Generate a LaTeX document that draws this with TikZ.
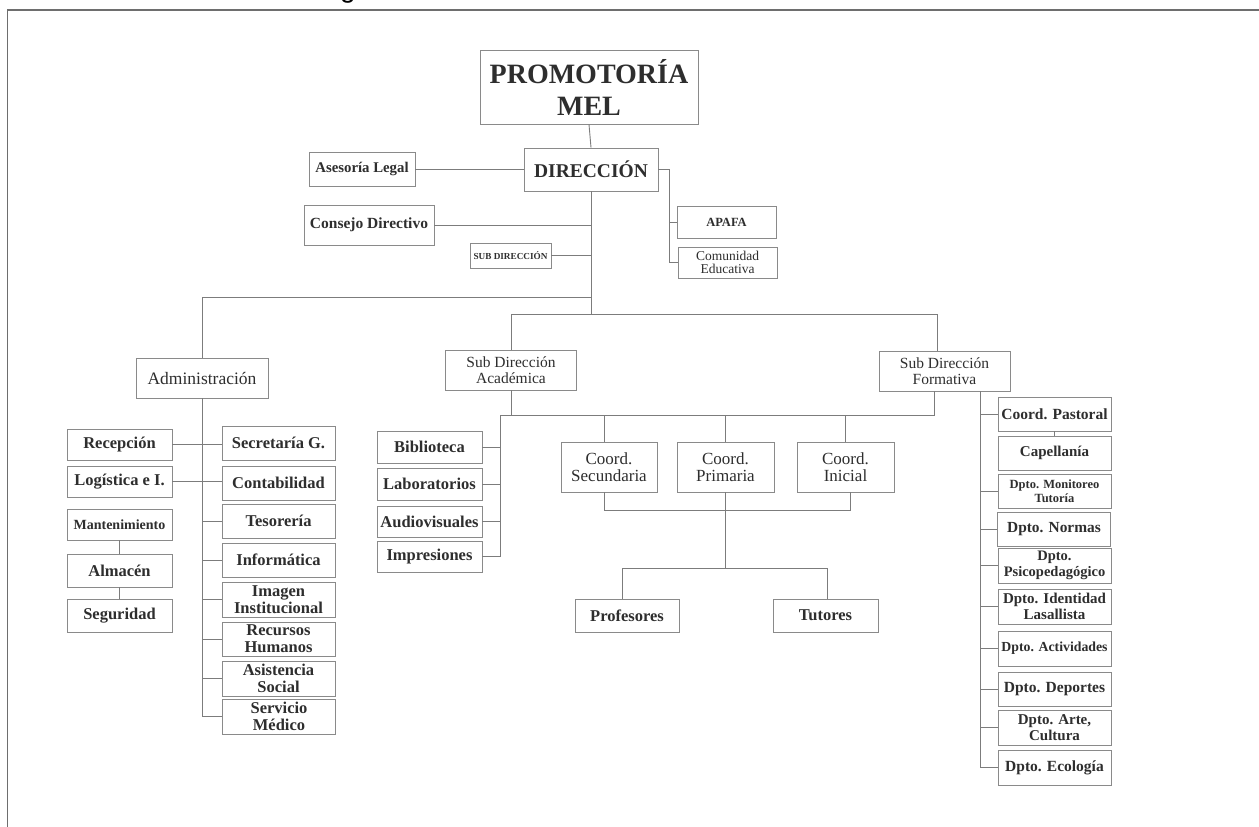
\documentclass[tikz,border=0pt]{standalone}
\usepackage{fontspec}
\setmainfont{Liberation Serif}
\newfontfamily\gfont{Liberation Sans}
\definecolor{boxgray}{HTML}{8A8A8A}
\definecolor{linegray}{HTML}{7C7C7C}
\definecolor{framegray}{HTML}{6E6E6E}
\definecolor{txt}{HTML}{2E2E2E}
\begin{document}
\begin{tikzpicture}[x=1pt,y=-1pt,
  bx/.style={draw=boxgray, line width=0.9pt, inner sep=0pt, align=center, text=txt,
    font=\bfseries\fontsize{16.5}{17}\selectfont},
  rg/.style={font=\fontsize{#1}{#1}\selectfont},
  bd/.style={font=\bfseries\fontsize{#1}{#1}\selectfont},
  ln/.style={draw=linegray, line width=0.9pt},
  fr/.style={draw=framegray, line width=1.2pt}]
\useasboundingbox (0,0) rectangle (1259,827);
\fill[white] (0,0) rectangle (1259,827);
% frame and title fragment
\coordinate (fa) at (7.5,827);
\coordinate (fb) at (7.5,10);
\coordinate (fc) at (1259,10);
\draw[fr] (fa) -- (fb) -- (fc);
\begin{scope}
\clip (0,0) rectangle (1259,827);
\node[font=\gfont\fontsize{28}{28}\selectfont, anchor=base west, inner sep=0pt, text=black] (gfrag) at (340,-2) {g};
\end{scope}

% top levels
\node[bx, minimum width=218, minimum height=74, font=\bfseries\fontsize{28}{32}\selectfont] (prom) at (589,87) {PROMOTORÍA\\MEL};
\node[bx, minimum width=134, minimum height=43, bd=19.5] (dir) at (591,169.5) {DIRECCIÓN};
\node[bx, minimum width=106, minimum height=34, bd=14.8] (ases) at (362,169) {Asesoría Legal};
\node[bx, minimum width=130, minimum height=40, bd=15.5] (cons) at (369,225) {Consejo Directivo};
\node[bx, minimum width=81, minimum height=25, bd=9.2] (subd) at (510.5,255.5) {SUB DIRECCIÓN};
\node[bx, minimum width=99, minimum height=32, bd=12.5] (apafa) at (726.5,222) {APAFA};
\node[bx, minimum width=99, minimum height=31, font=\fontsize{13.5}{13.5}\selectfont] (comu) at (727.5,262.5) {Comunidad\\Educativa};

% Administracion
\node[bx, minimum width=132, minimum height=40, rg=17.5] (adm) at (202,378) {Administración};
\node[bx, minimum width=105, minimum height=31] (rec) at (119.5,444.5) {Recepción};
\node[bx, minimum width=105, minimum height=31] (log) at (119.5,481.5) {Logística e I.};
\node[bx, minimum width=105, minimum height=31, bd=14] (mant) at (119.5,524.5) {Mantenimiento};
\node[bx, minimum width=105, minimum height=33] (alm) at (119.5,570.5) {Almacén};
\node[bx, minimum width=105, minimum height=33] (seg) at (119.5,615.5) {Seguridad};
\node[bx, minimum width=113, minimum height=34] (sec) at (278.5,443) {Secretaría G.};
\node[bx, minimum width=113, minimum height=34] (cont) at (278.5,483) {Contabilidad};
\node[bx, minimum width=113, minimum height=34] (tes) at (278.5,521) {Tesorería};
\node[bx, minimum width=113, minimum height=34] (inf) at (278.5,560) {Informática};
\node[bx, minimum width=113, minimum height=35] (img) at (278.5,599.5) {Imagen\\Institucional};
\node[bx, minimum width=113, minimum height=34] (rrhh) at (278.5,639) {Recursos\\Humanos};
\node[bx, minimum width=113, minimum height=35] (asis) at (278.5,678.5) {Asistencia\\Social};
\node[bx, minimum width=113, minimum height=35] (serv) at (279,716.5) {Servicio\\Médico};

% Academica
\node[bx, minimum width=131, minimum height=40, font=\fontsize{15.5}{16}\selectfont] (acad) at (511,370) {Sub Dirección\\Académica};
\node[bx, minimum width=131, minimum height=40, font=\fontsize{15.5}{16}\selectfont] (form) at (944.5,371) {Sub Dirección\\Formativa};
\node[bx, minimum width=105, minimum height=32] (bib) at (429.5,447) {Biblioteca};
\node[bx, minimum width=105, minimum height=32] (lab) at (429.5,484) {Laboratorios};
\node[bx, minimum width=105, minimum height=31] (aud) at (429.5,521.5) {Audiovisuales};
\node[bx, minimum width=105, minimum height=31] (imp) at (429.5,556.5) {Impresiones};
\node[bx, minimum width=96, minimum height=50, font=\fontsize{17}{17}\selectfont] (csec) at (609,467) {Coord.\\Secundaria};
\node[bx, minimum width=97, minimum height=50, font=\fontsize{17}{17}\selectfont] (cpri) at (725.5,467) {Coord.\\Primaria};
\node[bx, minimum width=97, minimum height=50, font=\fontsize{17}{17}\selectfont] (cini) at (845.5,467) {Coord.\\Inicial};
\node[bx, minimum width=104, minimum height=33] (prof) at (627,615.5) {Profesores};
\node[bx, minimum width=105, minimum height=33] (tut) at (825.5,615.5) {Tutores};

% Formativa column
\node[bx, minimum width=113, minimum height=34, bd=15.5] (past) at (1054.5,414) {Coord. Pastoral};
\node[bx, minimum width=113, minimum height=34, bd=15] (cap) at (1054.5,453) {Capellanía};
\node[bx, minimum width=113, minimum height=34, font=\bfseries\fontsize{12.5}{14}\selectfont] (mon) at (1054.5,491) {Dpto. Monitoreo\\Tutoría};
\node[bx, minimum width=113, minimum height=34, bd=15.4] (norm) at (1054,529) {Dpto. Normas};
\node[bx, minimum width=113, minimum height=35, font=\bfseries\fontsize{14.5}{16}\selectfont] (psi) at (1054.5,565.5) {Dpto.\\Psicopedagógico};
\node[bx, minimum width=113, minimum height=35, font=\bfseries\fontsize{15}{16}\selectfont] (iden) at (1054.5,606.5) {Dpto. Identidad\\Lasallista};
\node[bx, minimum width=113, minimum height=35, bd=13.8] (act) at (1054.5,648.5) {Dpto. Actividades};
\node[bx, minimum width=113, minimum height=34, bd=15.5] (dep) at (1054.5,689) {Dpto. Deportes};
\node[bx, minimum width=113, minimum height=35, font=\bfseries\fontsize{15}{16}\selectfont] (arte) at (1054.5,727.5) {Dpto. Arte,\\Cultura};
\node[bx, minimum width=113, minimum height=35, bd=15.5] (eco) at (1054.5,767.5) {Dpto. Ecología};

% junction coordinates
\coordinate (ja) at (591,297);
\coordinate (j1) at (591,314.5);
\coordinate (jb) at (500,415);
\coordinate (dr) at ([xshift=11pt]dir.east);
\coordinate (ft) at ([xshift=-7.5pt]form.north);
\coordinate (fbm) at ([xshift=-10.5pt]form.south);
\coordinate (fv) at ([xshift=35.5pt]form.south);

% connectors top
\draw[ln] (prom.south) -- (dir.north);
\draw[ln] (ases.east) -- (ases.east -| dir.west);
\draw[ln] (dir.south) -- (j1);
\draw[ln] (cons.east) -- (cons.east -| dir.south);
\draw[ln] (subd.east) -- (subd.east -| dir.south);
\draw[ln] (dir.east) -- (dr) |- (comu.west);
\draw[ln] (dr |- apafa.west) -- (apafa.west);

% administracion
\draw[ln] (ja) -| (adm.north);
\draw[ln] (adm.south) |- (serv.west);
\draw[ln] (rec.east) -- (rec.east -| sec.west);
\draw[ln] (log.east) -- (log.east -| cont.west);
\draw[ln] (adm.south |- tes.west) -- (tes.west);
\draw[ln] (adm.south |- inf.west) -- (inf.west);
\draw[ln] (adm.south |- img.west) -- (img.west);
\draw[ln] (adm.south |- rrhh.west) -- (rrhh.west);
\draw[ln] (adm.south |- asis.west) -- (asis.west);
\draw[ln] (mant.south) -- (alm.north);
\draw[ln] (alm.south) -- (seg.north);

% sub direcciones
\draw[ln] (acad.north) |- (j1) -| (ft);
\draw[ln] (acad.south) -- (acad.south |- jb);
\draw[ln] (fbm) |- (jb);
\draw[ln] (jb) |- (imp.east);
\draw[ln] (jb |- bib.east) -- (bib.east);
\draw[ln] (jb |- lab.east) -- (lab.east);
\draw[ln] (jb |- aud.east) -- (aud.east);
\draw[ln] ([xshift=-5pt]csec.north) -- ([xshift=-5pt]csec.north |- jb);
\draw[ln] (cpri.north) -- (cpri.north |- jb);
\draw[ln] (cini.north) -- (cini.north |- jb);
\draw[ln] ([xshift=-5pt]csec.south) -- ++(0,18) -| ([xshift=5pt]cini.south);
\draw[ln] (cpri.south) -- ++(0,76) coordinate (jd);
\draw[ln] ([xshift=-5pt]prof.north) |- (jd) -| ([xshift=2pt]tut.north);

% formativa column
\draw[ln] (fv) |- (eco.west);
\draw[ln] (fv |- past.west) -- (past.west);
\draw[ln] (past.south) -- (cap.north);
\draw[ln] (fv |- mon.west) -- (mon.west);
\draw[ln] (fv |- norm.west) -- (norm.west);
\draw[ln] (fv |- psi.west) -- (psi.west);
\draw[ln] (fv |- iden.west) -- (iden.west);
\draw[ln] (fv |- act.west) -- (act.west);
\draw[ln] (fv |- dep.west) -- (dep.west);
\draw[ln] (fv |- arte.west) -- (arte.west);
\end{tikzpicture}
\end{document}
